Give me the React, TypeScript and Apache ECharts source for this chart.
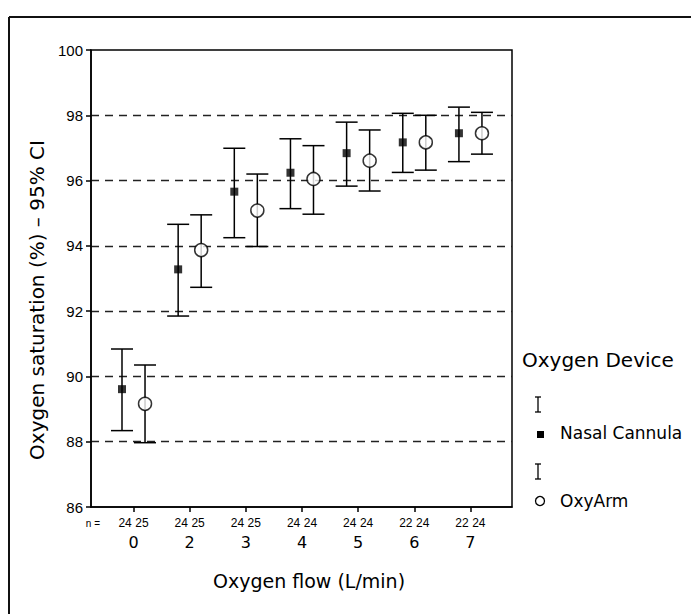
import React, { useEffect, useRef } from "react";
import * as echarts from "echarts";

const CATS = ["0", "2", "3", "4", "5", "6", "7"];
const N_NASAL = [24, 24, 24, 24, 24, 22, 22];
const N_OXY = [25, 25, 25, 24, 24, 24, 24];
const NASAL_MEAN = [89.61, 93.28, 95.66, 96.24, 96.84, 97.17, 97.45];
const NASAL_LOW = [88.34, 91.85, 94.25, 95.14, 95.83, 96.25, 96.58];
const NASAL_HIGH = [90.84, 94.66, 96.99, 97.28, 97.79, 98.06, 98.25];
const OXY_MEAN = [89.16, 93.87, 95.08, 96.05, 96.61, 97.17, 97.45];
const OXY_LOW = [87.97, 92.73, 93.98, 94.97, 95.68, 96.32, 96.81];
const OXY_HIGH = [90.35, 94.95, 96.2, 97.07, 97.55, 98.0, 98.09];

const OFFSET = 0.205;
const N_OFFSET = 0.15;

const SANS = "DejaVu Sans, Verdana, sans-serif";
const ARIAL = "Liberation Sans, Arial, sans-serif";

export default function App() {
  const ref = useRef<HTMLDivElement>(null);
  useEffect(() => {
    if (!ref.current) return;
    const chart = echarts.init(ref.current, null, { renderer: "svg" });

    const idx = CATS.map((_, i) => i);
    const nasalPts = idx.map((i) => [i - OFFSET, NASAL_MEAN[i]]);
    const oxyPts = idx.map((i) => [i + OFFSET, OXY_MEAN[i]]);
    const nasalBars = idx.map((i) => [i - OFFSET, NASAL_LOW[i], NASAL_HIGH[i]]);
    const oxyBars = idx.map((i) => [i + OFFSET, OXY_LOW[i], OXY_HIGH[i]]);

    const nPositions: number[] = [];
    const nTexts: string[] = [];
    idx.forEach((i) => {
      nPositions.push(i - N_OFFSET);
      nTexts.push(String(N_NASAL[i]));
      nPositions.push(i + N_OFFSET);
      nTexts.push(String(N_OXY[i]));
    });

    const errRender = (params: any, api: any) => {
      const x = api.value(0);
      const top = api.coord([x, api.value(2)]);
      const bot = api.coord([x, api.value(1)]);
      const hw = 11;
      const style = { stroke: "#000", lineWidth: 1.5 };
      return {
        type: "group",
        children: [
          { type: "line", shape: { x1: top[0], y1: top[1], x2: bot[0], y2: bot[1] }, style },
          { type: "line", shape: { x1: top[0] - hw, y1: top[1], x2: top[0] + hw, y2: top[1] }, style },
          { type: "line", shape: { x1: bot[0] - hw, y1: bot[1], x2: bot[0] + hw, y2: bot[1] }, style },
        ],
      };
    };

    const xMin = -0.757;
    const xMax = 6.74;

    chart.setOption({
      animation: false,
      backgroundColor: "#fff",
      grid: {
        left: 91,
        top: 50,
        right: 179,
        bottom: 107,
        show: true,
        borderColor: "#000",
        borderWidth: 1.5,
        backgroundColor: "transparent",
      },
      xAxis: [
        {
          type: "value",
          min: xMin,
          max: xMax,
          axisLine: { show: true, onZero: false, lineStyle: { color: "#000", width: 1.5 } },
          axisTick: {
            show: true,
            length: 5,
            customValues: idx,
            lineStyle: { color: "#000", width: 1.5 },
          },
          axisLabel: {
            customValues: idx,
            formatter: (v: number) => CATS[Math.round(v)] ?? "",
            margin: 27,
            fontSize: 16,
            fontFamily: SANS,
            color: "#000",
          },
          splitLine: { show: false },
        },
        {
          type: "value",
          position: "bottom",
          min: xMin,
          max: xMax,
          axisLine: { show: false, onZero: false },
          axisTick: { show: false },
          axisLabel: {
            customValues: nPositions,
            formatter: (v: number) => {
              let best = 0;
              let d = Infinity;
              nPositions.forEach((p, k) => {
                if (Math.abs(p - v) < d) {
                  d = Math.abs(p - v);
                  best = k;
                }
              });
              return nTexts[best];
            },
            margin: 10,
            fontSize: 12,
            fontFamily: ARIAL,
            color: "#000",
          },
          splitLine: { show: false },
        },
      ],
      yAxis: {
        type: "value",
        min: 86,
        max: 100,
        interval: 2,
        axisLine: { show: true, onZero: false, lineStyle: { color: "#000", width: 1.5 } },
        axisTick: { show: true, length: 5, lineStyle: { color: "#000", width: 1.5 } },
        axisLabel: { fontSize: 15, fontFamily: ARIAL, color: "#000", margin: 8 },
        splitLine: {
          show: true,
          showMinLine: false,
          showMaxLine: false,
          lineStyle: { color: "#222", width: 1.3, type: [8, 6] },
        },
      },
      series: [
        {
          type: "custom",
          name: "Nasal Cannula CI",
          renderItem: errRender,
          data: nasalBars,
          encode: { x: 0, y: [1, 2] },
          z: 2,
        },
        {
          type: "custom",
          name: "OxyArm CI",
          renderItem: errRender,
          data: oxyBars,
          encode: { x: 0, y: [1, 2] },
          z: 2,
        },
        {
          type: "scatter",
          name: "Nasal Cannula",
          data: nasalPts,
          symbol: "rect",
          symbolSize: 8,
          itemStyle: { color: "#000" },
          z: 3,
        },
        {
          type: "scatter",
          name: "OxyArm",
          data: oxyPts,
          symbol: "circle",
          symbolSize: 13,
          itemStyle: { color: "#fff", borderColor: "#000", borderWidth: 1.5 },
          z: 3,
        },
      ],
      graphic: [
        { type: "line", shape: { x1: 9, y1: 17, x2: 9, y2: 614 }, style: { stroke: "#111", lineWidth: 2 } },
        { type: "line", shape: { x1: 9, y1: 17, x2: 691, y2: 17 }, style: { stroke: "#111", lineWidth: 2 } },
        {
          type: "text",
          x: 37,
          y: 300,
          rotation: Math.PI / 2,
          style: {
            text: "Oxygen saturation (%) – 95% CI",
            fontSize: 20,
            fontFamily: SANS,
            fill: "#000",
            textAlign: "center",
            textVerticalAlign: "middle",
          },
        },
        {
          type: "text",
          x: 309,
          y: 581,
          style: {
            text: "Oxygen flow (L/min)",
            fontSize: 19,
            fontFamily: SANS,
            fill: "#000",
            textAlign: "center",
            textVerticalAlign: "middle",
          },
        },
        {
          type: "text",
          x: 100,
          y: 523,
          style: {
            text: "n =",
            fontSize: 10,
            fontFamily: ARIAL,
            fill: "#000",
            textAlign: "right",
            textVerticalAlign: "middle",
          },
        },
        {
          type: "text",
          x: 522,
          y: 360,
          style: {
            text: "Oxygen Device",
            fontSize: 20,
            fontFamily: SANS,
            fill: "#000",
            textAlign: "left",
            textVerticalAlign: "middle",
          },
        },
        { type: "line", shape: { x1: 538, y1: 397, x2: 538, y2: 412 }, style: { stroke: "#000", lineWidth: 1.3 } },
        { type: "line", shape: { x1: 535, y1: 397, x2: 541, y2: 397 }, style: { stroke: "#000", lineWidth: 1.3 } },
        { type: "line", shape: { x1: 535, y1: 412, x2: 541, y2: 412 }, style: { stroke: "#000", lineWidth: 1.3 } },
        { type: "rect", shape: { x: 537, y: 431, width: 7, height: 7 }, style: { fill: "#000" } },
        {
          type: "text",
          x: 560,
          y: 433,
          style: {
            text: "Nasal Cannula",
            fontSize: 17,
            fontFamily: SANS,
            fill: "#000",
            textAlign: "left",
            textVerticalAlign: "middle",
          },
        },
        { type: "line", shape: { x1: 538, y1: 464, x2: 538, y2: 479 }, style: { stroke: "#000", lineWidth: 1.3 } },
        { type: "line", shape: { x1: 535, y1: 464, x2: 541, y2: 464 }, style: { stroke: "#000", lineWidth: 1.3 } },
        { type: "line", shape: { x1: 535, y1: 479, x2: 541, y2: 479 }, style: { stroke: "#000", lineWidth: 1.3 } },
        { type: "circle", shape: { cx: 540, cy: 501, r: 4.5 }, style: { fill: "#fff", stroke: "#000", lineWidth: 1.3 } },
        {
          type: "text",
          x: 560,
          y: 501,
          style: {
            text: "OxyArm",
            fontSize: 17,
            fontFamily: SANS,
            fill: "#000",
            textAlign: "left",
            textVerticalAlign: "middle",
          },
        },
      ],
    });
    return () => chart.dispose();
  }, []);

  return (
    <div
      ref={ref}
      style={{ position: "fixed", left: 0, top: 0, width: 691, height: 614, background: "#fff" }}
    />
  );
}
